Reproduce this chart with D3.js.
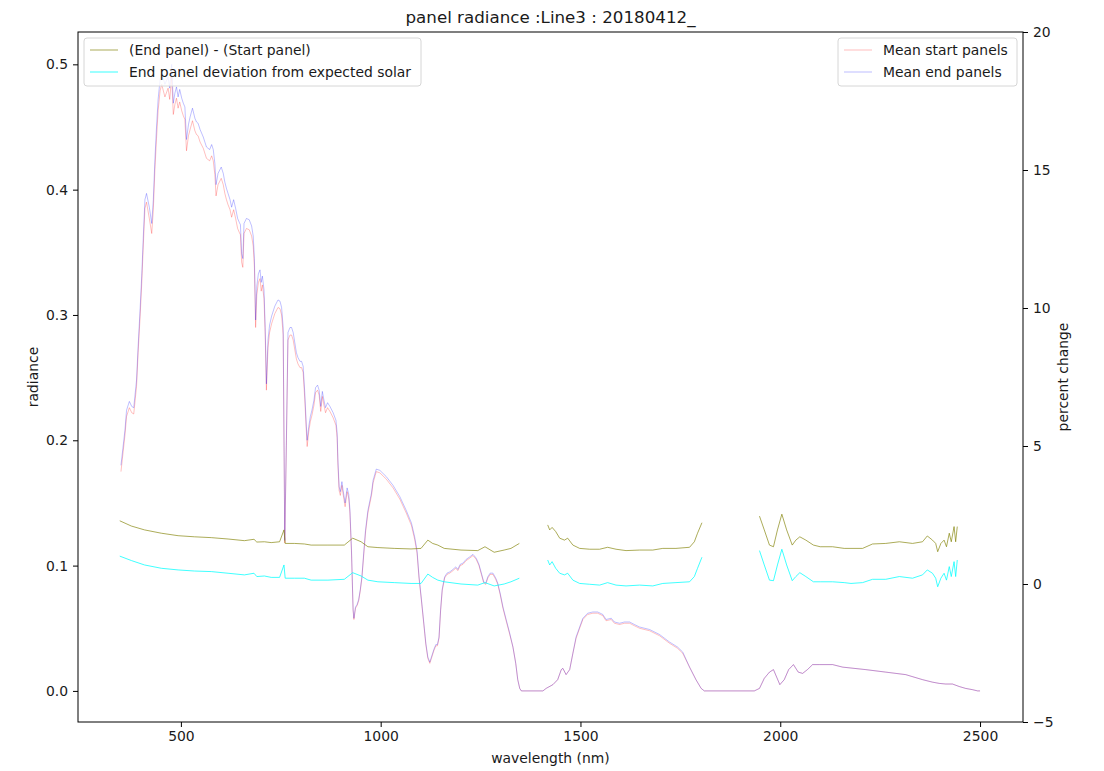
<!DOCTYPE html>
<html>
<head>
<meta charset="utf-8">
<script src="https://cdn.jsdelivr.net/npm/d3@7"></script>
<style>
  body { margin: 0; background: #fff; }
  svg { display: block; font-family: "DejaVu Sans", sans-serif; }
</style>
</head>
<body>
<svg id="chart" width="1104" height="771"></svg>
<script>
// ---------------- DATA ----------------
const titleText = "panel radiance :Line3 : 20180412_";

// radiance spectra (left axis)
const wavelength = [350,360,364,371,377,382,389,393,398,402,406,410,414,421,427,431,435,439,443,448,452,460,468,472,477,481,485,489,493,497,502,506,510,514,519,523,529,535,539,543,548,556,564,572,577,581,585,588,593,601,606,610,614,618,623,627,632,637,642,646,649,652,655,658,664,671,677,681,684,687,690,694,698,701,704,708,711,714,718,722,727,735,743,748,752,756,760,764,768,773,777,781,789,793,798,802,806,810,814,816,820,824,828,833,837,842,846,850,854,858,862,867,873,881,888,891,893,896,899,903,906,911,916,920,923,927,931,933,937,941,945,949,953,958,962,968,977,981,989,998,1014,1031,1048,1064,1077,1085,1091,1096,1102,1108,1113,1118,1123,1127,1133,1138,1142,1146,1150,1154,1160,1166,1173,1181,1188,1193,1199,1206,1214,1223,1231,1239,1246,1252,1258,1263,1268,1274,1281,1288,1293,1299,1306,1314,1323,1331,1338,1343,1348,1352,1406,1414,1431,1443,1452,1456,1464,1473,1481,1489,1498,1506,1518,1531,1543,1556,1564,1577,1585,1598,1610,1623,1635,1648,1673,1698,1723,1743,1756,1773,1789,1802,1810,1935,1948,1960,1973,1983,1991,1999,2010,2021,2033,2045,2056,2068,2081,2098,2131,2156,2214,2264,2314,2356,2381,2398,2414,2431,2448,2464,2481,2494,2500];

const meanEnd = [0.180,0.208,0.224,0.231,0.227,0.226,0.248,0.275,0.305,0.331,0.363,0.392,0.397,0.386,0.373,0.392,0.424,0.450,0.472,0.488,0.493,0.484,0.490,0.481,0.500,0.469,0.477,0.482,0.474,0.480,0.473,0.469,0.466,0.440,0.452,0.458,0.465,0.457,0.454,0.453,0.448,0.442,0.434,0.432,0.436,0.432,0.421,0.404,0.413,0.418,0.413,0.406,0.401,0.397,0.392,0.386,0.392,0.385,0.377,0.374,0.372,0.349,0.345,0.373,0.377,0.376,0.371,0.363,0.345,0.296,0.323,0.333,0.336,0.326,0.331,0.320,0.290,0.245,0.280,0.292,0.299,0.307,0.312,0.311,0.306,0.290,0.120,0.200,0.286,0.290,0.290,0.286,0.270,0.266,0.263,0.263,0.259,0.238,0.211,0.200,0.211,0.219,0.224,0.232,0.242,0.244,0.240,0.227,0.239,0.232,0.226,0.230,0.227,0.222,0.216,0.206,0.184,0.163,0.159,0.167,0.160,0.150,0.162,0.157,0.145,0.112,0.065,0.058,0.067,0.069,0.073,0.081,0.091,0.112,0.128,0.144,0.158,0.168,0.177,0.176,0.171,0.164,0.155,0.144,0.134,0.123,0.112,0.091,0.073,0.054,0.038,0.027,0.023,0.027,0.033,0.037,0.037,0.043,0.065,0.081,0.091,0.094,0.095,0.097,0.099,0.097,0.101,0.102,0.105,0.107,0.109,0.106,0.101,0.094,0.087,0.086,0.091,0.094,0.094,0.090,0.086,0.078,0.067,0.057,0.046,0.035,0.022,0.009,0.002,0.000,0.000,0.002,0.005,0.009,0.017,0.018,0.013,0.017,0.030,0.043,0.051,0.058,0.062,0.063,0.063,0.061,0.057,0.058,0.055,0.054,0.055,0.055,0.053,0.051,0.049,0.045,0.039,0.035,0.031,0.019,0.009,0.002,0.000,0.000,0.002,0.010,0.015,0.017,0.011,0.005,0.009,0.017,0.021,0.015,0.014,0.017,0.021,0.021,0.021,0.019,0.017,0.015,0.013,0.009,0.007,0.006,0.0055,0.0055,0.0035,0.002,0.001,0.000,0.000];

const meanStart = [0.175,0.204,0.219,0.226,0.222,0.221,0.243,0.270,0.299,0.325,0.356,0.385,0.390,0.377,0.365,0.384,0.416,0.441,0.463,0.479,0.484,0.474,0.481,0.472,0.490,0.460,0.468,0.473,0.465,0.470,0.463,0.459,0.456,0.431,0.443,0.448,0.455,0.447,0.444,0.443,0.438,0.433,0.425,0.423,0.427,0.423,0.412,0.395,0.404,0.409,0.404,0.397,0.392,0.388,0.384,0.378,0.384,0.377,0.369,0.366,0.364,0.342,0.338,0.365,0.369,0.368,0.363,0.355,0.338,0.290,0.316,0.326,0.329,0.319,0.324,0.313,0.284,0.240,0.274,0.286,0.293,0.301,0.306,0.305,0.300,0.284,0.118,0.196,0.280,0.284,0.284,0.280,0.265,0.261,0.258,0.258,0.254,0.233,0.207,0.195,0.207,0.215,0.220,0.228,0.238,0.240,0.236,0.223,0.235,0.228,0.222,0.226,0.223,0.218,0.212,0.202,0.180,0.160,0.156,0.164,0.157,0.147,0.159,0.154,0.142,0.110,0.064,0.057,0.066,0.068,0.072,0.080,0.090,0.110,0.126,0.142,0.156,0.166,0.175,0.174,0.169,0.162,0.153,0.142,0.132,0.121,0.110,0.090,0.072,0.053,0.037,0.026,0.022,0.026,0.032,0.036,0.036,0.042,0.064,0.080,0.090,0.093,0.094,0.096,0.098,0.096,0.100,0.101,0.104,0.106,0.108,0.105,0.100,0.093,0.086,0.085,0.090,0.093,0.093,0.089,0.085,0.077,0.066,0.056,0.045,0.035,0.022,0.009,0.002,0.000,0.000,0.002,0.005,0.009,0.017,0.018,0.013,0.017,0.030,0.042,0.050,0.057,0.061,0.062,0.062,0.060,0.056,0.057,0.054,0.053,0.054,0.054,0.052,0.050,0.048,0.044,0.038,0.034,0.030,0.019,0.009,0.002,0.000,0.000,0.002,0.010,0.015,0.017,0.011,0.005,0.009,0.017,0.021,0.015,0.014,0.017,0.021,0.021,0.021,0.019,0.017,0.015,0.013,0.009,0.007,0.006,0.0055,0.0055,0.0035,0.002,0.001,0.000,0.000];

// percent-change series (right axis); null = gap (water bands)
const pctWavelength = [347,376,409,451,493,534,576,618,659,683,690,709,726,747,758,761,784,809,826,868,909,930,951,968,993,1034,1076,1101,1118,1130,1143,1159,1201,1243,1261,1284,1309,1326,1347,
  1380,
  1418,1423,1429,1438,1448,1460,1468,1481,1498,1523,1548,1568,1589,1614,1648,1681,1706,1739,1773,1785,1793,1804,
  1880,
  1948,1960,1973,1983,1993,2004,2016,2030,2039,2049,2064,2083,2100,2131,2160,2177,2206,2231,2264,2298,2331,2356,2368,2381,2389,2394,2402,2410,2416,2423,2428,2435,2439,2443];

const endMinusStart = [2.29,2.10,1.96,1.84,1.75,1.71,1.68,1.63,1.57,1.62,1.52,1.53,1.50,1.53,1.96,1.47,1.47,1.45,1.41,1.41,1.41,1.66,1.53,1.35,1.32,1.29,1.27,1.29,1.59,1.47,1.41,1.29,1.23,1.21,1.35,1.15,1.23,1.29,1.47,
  null,
  2.14,1.96,2.05,1.90,1.66,1.59,1.66,1.41,1.29,1.26,1.26,1.33,1.26,1.21,1.23,1.23,1.29,1.29,1.33,1.53,1.84,2.22,
  null,
  2.46,1.96,1.41,1.35,1.96,2.53,1.96,1.41,1.59,1.71,1.59,1.41,1.35,1.35,1.29,1.29,1.29,1.45,1.47,1.53,1.47,1.53,1.74,1.59,1.47,1.17,1.47,1.59,1.35,1.84,1.53,2.08,1.53,2.08];

const endDeviation = [1.01,0.85,0.69,0.57,0.51,0.47,0.45,0.39,0.33,0.39,0.27,0.29,0.24,0.24,0.69,0.21,0.21,0.21,0.14,0.14,0.17,0.41,0.29,0.14,0.08,0.05,0.02,0.02,0.36,0.24,0.14,0.08,0.00,-0.04,0.05,-0.07,0.00,0.08,0.21,
  null,
  0.87,0.69,0.81,0.57,0.39,0.33,0.39,0.14,0.02,-0.01,-0.04,0.05,-0.04,-0.07,-0.04,-0.07,0.02,0.05,0.08,0.27,0.57,0.97,
  null,
  1.21,0.69,0.14,0.12,0.69,1.26,0.69,0.12,0.27,0.41,0.27,0.08,0.08,0.08,0.05,0.02,0.05,0.17,0.17,0.27,0.21,0.33,0.51,0.39,0.21,-0.10,0.21,0.39,0.14,0.63,0.27,0.81,0.27,0.87];

const xTicks = [500,1000,1500,2000,2500];
const yLeftTicks = [0.0,0.1,0.2,0.3,0.4,0.5];
const yRightTicks = [-5,0,5,10,15,20];
const legendLeft = ["(End panel) - (Start panel)", "End panel deviation from expected solar"];
const legendRight = ["Mean start panels", "Mean end panels"];

// ---------------- LAYOUT ----------------
const L = 78, R = 1023, T = 32, B = 722;
const svg = d3.select("#chart");

const x = d3.scaleLinear().domain([242.5, 2607.5]).range([L, R]);
const yL = d3.scaleLinear().domain([-0.0248, 0.5258]).range([B, T]);
const yR = d3.scaleLinear().domain([-5, 20]).range([B, T]);

const fontTick = 13.9;
const textColor = "#1a1a1a";

// ---- radiance lines (ax1) ----
const radLine = arr => d3.line()
  .x((d, i) => x(wavelength[i]))
  .y((d, i) => yL(arr[i]))(arr);

svg.append("path").attr("d", radLine(meanStart))
  .attr("fill", "none").attr("stroke", "red").attr("stroke-opacity", 0.25).attr("stroke-width", 1);
svg.append("path").attr("d", radLine(meanEnd))
  .attr("fill", "none").attr("stroke", "blue").attr("stroke-opacity", 0.25).attr("stroke-width", 1);

// ---- legend helper ----
function legend(gx, gy, w, labels, colors, opac) {
  const g = svg.append("g");
  g.append("rect").attr("x", gx).attr("y", gy).attr("width", w).attr("height", 48)
    .attr("rx", 3).attr("fill", "white").attr("fill-opacity", 0.8)
    .attr("stroke", "#d6d6d6").attr("stroke-width", 1);
  labels.forEach((lab, i) => {
    const yy = gy + 12 + i * 22;
    g.append("line").attr("x1", gx + 6).attr("x2", gx + 34).attr("y1", yy).attr("y2", yy)
      .attr("stroke", colors[i]).attr("stroke-opacity", opac[i]).attr("stroke-width", 1.3);
    g.append("text").attr("x", gx + 45).attr("y", yy).attr("dominant-baseline", "central")
      .attr("font-size", fontTick).attr("fill", textColor).text(lab);
  });
}
// ax1 legend (upper right)
legend(838, 38, 179, legendRight, ["red", "blue"], [0.2, 0.2]);

// ---- percent lines (ax2) ----
const pctLine = arr => d3.line()
  .defined((d) => d !== null)
  .x((d, i) => x(pctWavelength[i]))
  .y((d) => yR(d))(arr);

svg.append("path").attr("d", pctLine(endMinusStart))
  .attr("fill", "none").attr("stroke", "olive").attr("stroke-opacity", 0.65).attr("stroke-width", 1);
svg.append("path").attr("d", pctLine(endDeviation))
  .attr("fill", "none").attr("stroke", "cyan").attr("stroke-opacity", 0.75).attr("stroke-width", 1);

// ax2 legend (upper left)
legend(84, 38, 337, legendLeft, ["olive", "cyan"], [0.5, 0.6]);

// ---- frame ----
svg.append("rect").attr("x", L).attr("y", T).attr("width", R - L).attr("height", B - T)
  .attr("fill", "none").attr("stroke", "#000").attr("stroke-width", 1);

// ---- axes ----
function styleAxis(g) {
  g.select(".domain").remove();
  g.selectAll(".tick line").attr("stroke", "#000");
  g.selectAll(".tick text").attr("font-size", fontTick).attr("fill", textColor)
    .attr("font-family", "DejaVu Sans, sans-serif");
}
svg.append("g").attr("transform", `translate(0,${B})`)
  .call(d3.axisBottom(x).tickValues(xTicks).tickFormat(d3.format("d")).tickSize(5).tickPadding(4))
  .call(styleAxis);
svg.append("g").attr("transform", `translate(${L},0)`)
  .call(d3.axisLeft(yL).tickValues(yLeftTicks).tickFormat(d3.format(".1f")).tickSize(5).tickPadding(5))
  .call(styleAxis);
svg.append("g").attr("transform", `translate(${R},0)`)
  .call(d3.axisRight(yR).tickValues(yRightTicks).tickFormat(d => d < 0 ? "\u2212" + Math.abs(d) : d).tickSize(5).tickPadding(5))
  .call(styleAxis);

// ---- labels ----
svg.append("text").attr("x", (L + R) / 2).attr("y", 17).attr("text-anchor", "middle")
  .attr("dominant-baseline", "central").attr("font-size", 16.7).attr("fill", textColor).text(titleText);
svg.append("text").attr("x", (L + R) / 2).attr("y", 758).attr("text-anchor", "middle")
  .attr("dominant-baseline", "central").attr("font-size", fontTick).attr("fill", textColor).text("wavelength (nm)");
svg.append("text").attr("transform", `translate(33,${(T + B) / 2}) rotate(-90)`).attr("text-anchor", "middle")
  .attr("dominant-baseline", "central").attr("font-size", fontTick).attr("fill", textColor).text("radiance");
svg.append("text").attr("transform", `translate(1063,${(T + B) / 2}) rotate(-90)`).attr("text-anchor", "middle")
  .attr("dominant-baseline", "central").attr("font-size", fontTick).attr("fill", textColor).text("percent change");
</script>
</body>
</html>
